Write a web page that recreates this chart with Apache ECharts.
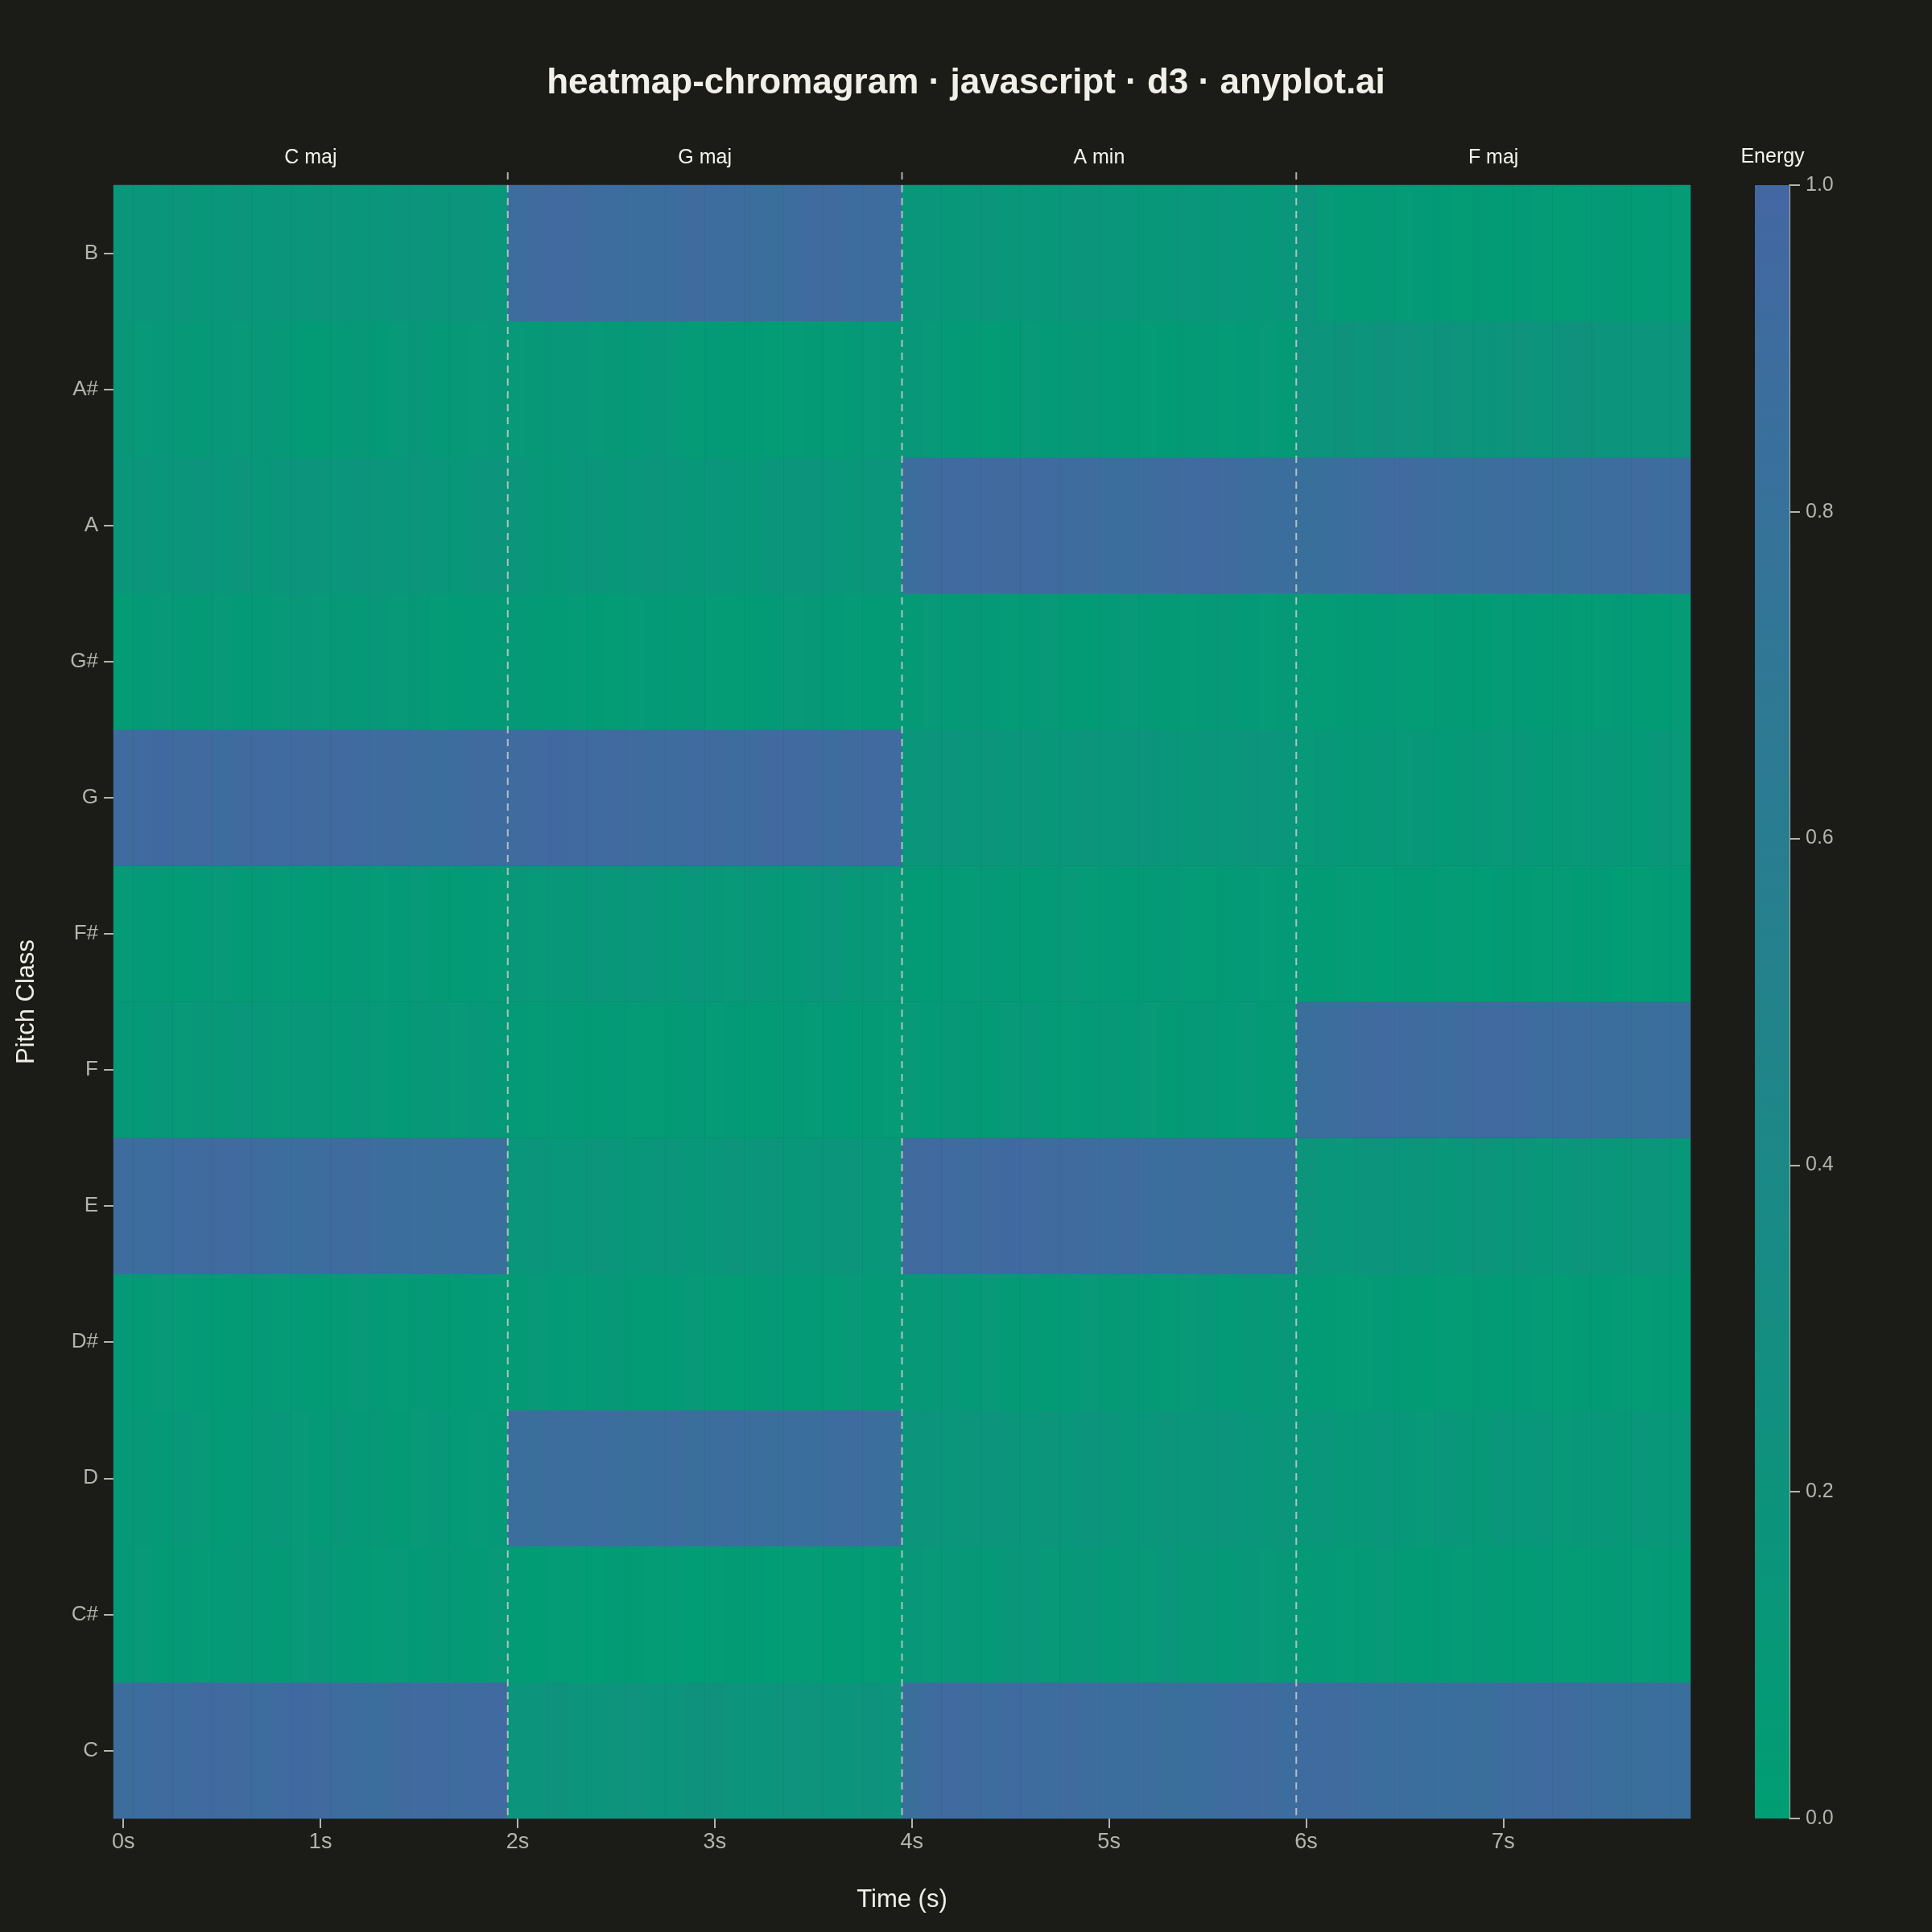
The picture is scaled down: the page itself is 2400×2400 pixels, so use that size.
<!DOCTYPE html>
<html>
<head>
<meta charset="utf-8">
<script src="https://cdn.jsdelivr.net/npm/echarts@6/dist/echarts.min.js"></script>
<style>
  html, body { margin: 0; padding: 0; background: #1b1b18; }
  #chart { width: 2400px; height: 2400px; }
</style>
</head>
<body>
<div id="chart"></div>
<script>
// pitch classes, bottom to top
const pitchClasses = ['C', 'C#', 'D', 'D#', 'E', 'F', 'F#', 'G', 'G#', 'A', 'A#', 'B'];
const chordNames = ['C maj', 'G maj', 'A min', 'F maj'];
const chordStartFrames = [20, 40, 60]; // boundaries between chords (frame index, 10 frames / s)
const colorbarTicks = [0, 0.2, 0.4, 0.6, 0.8, 1.0];

// energy per frame (80 frames), one row per pitch class
const chromaC = [
  0.88, 0.90, 0.93, 0.91, 0.95, 0.94, 0.92, 0.90, 0.93, 0.96, 0.94, 0.91, 0.89, 0.88, 0.92, 0.95, 0.94, 0.91, 0.93, 0.95,
  0.16, 0.18, 0.21, 0.19, 0.17, 0.20, 0.22, 0.19, 0.18, 0.21, 0.23, 0.20, 0.18, 0.19, 0.22, 0.20, 0.17, 0.19, 0.21, 0.18,
  0.86, 0.91, 0.94, 0.92, 0.90, 0.93, 0.91, 0.89, 0.92, 0.90, 0.88, 0.87, 0.90, 0.86, 0.85, 0.88, 0.91, 0.93, 0.92, 0.90,
  0.91, 0.93, 0.92, 0.89, 0.88, 0.90, 0.87, 0.85, 0.88, 0.86, 0.89, 0.91, 0.93, 0.92, 0.90, 0.88, 0.86, 0.85, 0.87, 0.86
];
const chromaCs = [
  0.08, 0.10, 0.07, 0.09, 0.06, 0.08, 0.11, 0.09, 0.07, 0.10, 0.12, 0.09, 0.08, 0.06, 0.10, 0.08, 0.11, 0.09, 0.07, 0.10,
  0.05, 0.03, 0.06, 0.04, 0.02, 0.05, 0.03, 0.04, 0.06, 0.02, 0.04, 0.03, 0.05, 0.02, 0.04, 0.06, 0.03, 0.05, 0.04, 0.03,
  0.12, 0.10, 0.13, 0.11, 0.09, 0.12, 0.14, 0.10, 0.11, 0.13, 0.09, 0.12, 0.10, 0.14, 0.11, 0.12, 0.09, 0.13, 0.10, 0.11,
  0.07, 0.09, 0.06, 0.08, 0.10, 0.07, 0.05, 0.08, 0.06, 0.09, 0.07, 0.05, 0.08, 0.06, 0.04, 0.07, 0.09, 0.06, 0.08, 0.05
];
const chromaD = [
  0.09, 0.11, 0.08, 0.12, 0.10, 0.07, 0.09, 0.11, 0.13, 0.10, 0.08, 0.12, 0.09, 0.11, 0.07, 0.10, 0.12, 0.08, 0.10, 0.09,
  0.88, 0.86, 0.89, 0.87, 0.90, 0.88, 0.85, 0.87, 0.89, 0.86, 0.88, 0.90, 0.87, 0.85, 0.88, 0.86, 0.89, 0.91, 0.88, 0.86,
  0.16, 0.18, 0.15, 0.17, 0.19, 0.16, 0.14, 0.17, 0.15, 0.18, 0.16, 0.13, 0.15, 0.17, 0.14, 0.16, 0.18, 0.15, 0.13, 0.16,
  0.12, 0.14, 0.11, 0.13, 0.15, 0.12, 0.10, 0.14, 0.13, 0.11, 0.15, 0.12, 0.14, 0.10, 0.13, 0.12, 0.11, 0.14, 0.12, 0.13
];
const chromaDs = [
  0.09, 0.07, 0.10, 0.06, 0.08, 0.05, 0.07, 0.09, 0.06, 0.08, 0.05, 0.07, 0.10, 0.08, 0.06, 0.09, 0.07, 0.05, 0.08, 0.06,
  0.07, 0.10, 0.08, 0.06, 0.09, 0.11, 0.07, 0.05, 0.08, 0.10, 0.06, 0.04, 0.07, 0.09, 0.05, 0.08, 0.06, 0.10, 0.07, 0.09,
  0.11, 0.09, 0.12, 0.08, 0.10, 0.07, 0.09, 0.05, 0.08, 0.10, 0.07, 0.11, 0.09, 0.06, 0.10, 0.12, 0.08, 0.11, 0.09, 0.13,
  0.05, 0.07, 0.04, 0.06, 0.08, 0.05, 0.03, 0.06, 0.04, 0.07, 0.05, 0.08, 0.06, 0.04, 0.07, 0.05, 0.06, 0.04, 0.07, 0.05
];
const chromaE = [
  0.90, 0.89, 0.91, 0.93, 0.92, 0.94, 0.93, 0.91, 0.90, 0.88, 0.89, 0.91, 0.92, 0.90, 0.88, 0.87, 0.86, 0.88, 0.87, 0.86,
  0.14, 0.16, 0.13, 0.15, 0.17, 0.14, 0.12, 0.15, 0.16, 0.13, 0.15, 0.17, 0.14, 0.16, 0.13, 0.15, 0.14, 0.16, 0.13, 0.15,
  0.92, 0.94, 0.93, 0.91, 0.95, 0.96, 0.94, 0.92, 0.93, 0.91, 0.90, 0.92, 0.89, 0.88, 0.90, 0.87, 0.86, 0.88, 0.85, 0.87,
  0.17, 0.15, 0.13, 0.16, 0.18, 0.14, 0.16, 0.13, 0.15, 0.17, 0.14, 0.16, 0.12, 0.15, 0.17, 0.14, 0.13, 0.16, 0.14, 0.12
];
const chromaF = [
  0.11, 0.09, 0.12, 0.10, 0.13, 0.11, 0.14, 0.12, 0.10, 0.13, 0.11, 0.09, 0.12, 0.10, 0.08, 0.11, 0.13, 0.10, 0.12, 0.09,
  0.08, 0.06, 0.09, 0.07, 0.05, 0.08, 0.06, 0.04, 0.07, 0.09, 0.06, 0.08, 0.05, 0.07, 0.09, 0.06, 0.08, 0.05, 0.07, 0.06,
  0.10, 0.08, 0.11, 0.09, 0.07, 0.10, 0.12, 0.08, 0.06, 0.09, 0.11, 0.08, 0.10, 0.07, 0.09, 0.11, 0.08, 0.10, 0.07, 0.09,
  0.85, 0.88, 0.90, 0.92, 0.94, 0.93, 0.91, 0.89, 0.92, 0.94, 0.95, 0.93, 0.90, 0.91, 0.89, 0.87, 0.88, 0.86, 0.87, 0.85
];
const chromaFs = [
  0.06, 0.09, 0.07, 0.05, 0.08, 0.10, 0.07, 0.09, 0.06, 0.08, 0.05, 0.07, 0.09, 0.06, 0.08, 0.10, 0.07, 0.05, 0.08, 0.06,
  0.12, 0.10, 0.13, 0.11, 0.14, 0.12, 0.15, 0.13, 0.11, 0.14, 0.12, 0.10, 0.13, 0.11, 0.09, 0.12, 0.14, 0.11, 0.13, 0.10,
  0.07, 0.05, 0.08, 0.06, 0.09, 0.07, 0.05, 0.08, 0.10, 0.06, 0.08, 0.05, 0.07, 0.09, 0.06, 0.04, 0.07, 0.09, 0.06, 0.08,
  0.05, 0.03, 0.06, 0.04, 0.02, 0.05, 0.03, 0.06, 0.04, 0.02, 0.05, 0.03, 0.04, 0.06, 0.03, 0.05, 0.02, 0.04, 0.03, 0.05
];
const chromaG = [
  0.91, 0.93, 0.96, 0.92, 0.94, 0.90, 0.92, 0.95, 0.93, 0.94, 0.92, 0.94, 0.93, 0.91, 0.92, 0.90, 0.88, 0.90, 0.92, 0.91,
  0.92, 0.95, 0.96, 0.94, 0.93, 0.95, 0.92, 0.90, 0.91, 0.93, 0.92, 0.90, 0.91, 0.94, 0.95, 0.93, 0.90, 0.92, 0.94, 0.93,
  0.14, 0.16, 0.18, 0.15, 0.17, 0.14, 0.16, 0.13, 0.15, 0.17, 0.14, 0.16, 0.18, 0.15, 0.13, 0.16, 0.14, 0.17, 0.19, 0.15,
  0.10, 0.12, 0.09, 0.11, 0.13, 0.10, 0.12, 0.08, 0.11, 0.13, 0.10, 0.12, 0.09, 0.11, 0.10, 0.13, 0.11, 0.09, 0.12, 0.10
];
const chromaGs = [
  0.04, 0.08, 0.10, 0.09, 0.07, 0.10, 0.08, 0.09, 0.10, 0.12, 0.10, 0.11, 0.09, 0.12, 0.10, 0.11, 0.06, 0.05, 0.08, 0.07,
  0.09, 0.07, 0.05, 0.06, 0.03, 0.04, 0.06, 0.08, 0.07, 0.09, 0.06, 0.04, 0.05, 0.08, 0.10, 0.11, 0.08, 0.06, 0.05, 0.07,
  0.07, 0.10, 0.08, 0.11, 0.09, 0.06, 0.08, 0.10, 0.07, 0.05, 0.08, 0.10, 0.09, 0.07, 0.06, 0.09, 0.11, 0.08, 0.06, 0.09,
  0.06, 0.04, 0.07, 0.05, 0.08, 0.06, 0.04, 0.07, 0.05, 0.03, 0.06, 0.08, 0.05, 0.07, 0.04, 0.06, 0.08, 0.05, 0.03, 0.06
];
const chromaA = [
  0.15, 0.17, 0.14, 0.16, 0.18, 0.15, 0.17, 0.13, 0.16, 0.19, 0.17, 0.15, 0.18, 0.16, 0.14, 0.17, 0.15, 0.13, 0.16, 0.18,
  0.16, 0.13, 0.11, 0.14, 0.16, 0.13, 0.15, 0.17, 0.14, 0.12, 0.15, 0.13, 0.11, 0.14, 0.16, 0.18, 0.15, 0.13, 0.16, 0.14,
  0.88, 0.91, 0.94, 0.93, 0.95, 0.92, 0.94, 0.93, 0.90, 0.91, 0.88, 0.87, 0.89, 0.91, 0.93, 0.94, 0.92, 0.89, 0.88, 0.87,
  0.84, 0.85, 0.87, 0.89, 0.93, 0.94, 0.91, 0.89, 0.88, 0.87, 0.89, 0.90, 0.88, 0.86, 0.87, 0.89, 0.90, 0.92, 0.90, 0.89
];
const chromaAs = [
  0.12, 0.10, 0.13, 0.11, 0.09, 0.12, 0.10, 0.13, 0.11, 0.08, 0.05, 0.09, 0.11, 0.08, 0.10, 0.12, 0.09, 0.11, 0.10, 0.12,
  0.10, 0.11, 0.13, 0.12, 0.10, 0.11, 0.09, 0.12, 0.10, 0.06, 0.08, 0.05, 0.07, 0.04, 0.06, 0.07, 0.06, 0.09, 0.10, 0.11,
  0.12, 0.10, 0.08, 0.07, 0.04, 0.05, 0.10, 0.08, 0.09, 0.11, 0.08, 0.07, 0.06, 0.05, 0.07, 0.09, 0.06, 0.08, 0.10, 0.07,
  0.20, 0.18, 0.21, 0.19, 0.23, 0.22, 0.19, 0.21, 0.20, 0.18, 0.20, 0.22, 0.19, 0.21, 0.23, 0.20, 0.18, 0.19, 0.17, 0.18
];
const chromaB = [
  0.14, 0.16, 0.15, 0.17, 0.13, 0.15, 0.17, 0.14, 0.16, 0.15, 0.17, 0.16, 0.14, 0.15, 0.18, 0.19, 0.16, 0.18, 0.17, 0.15,
  0.90, 0.92, 0.94, 0.93, 0.90, 0.89, 0.87, 0.88, 0.90, 0.92, 0.90, 0.89, 0.88, 0.86, 0.90, 0.93, 0.92, 0.90, 0.91, 0.89,
  0.13, 0.15, 0.12, 0.14, 0.16, 0.13, 0.15, 0.12, 0.14, 0.16, 0.14, 0.15, 0.12, 0.13, 0.15, 0.12, 0.14, 0.13, 0.11, 0.14,
  0.18, 0.10, 0.05, 0.07, 0.09, 0.06, 0.08, 0.05, 0.04, 0.07, 0.05, 0.08, 0.06, 0.04, 0.06, 0.09, 0.07, 0.05, 0.08, 0.06
];

const pitchRows = [chromaC, chromaCs, chromaD, chromaDs, chromaE, chromaF, chromaFs, chromaG, chromaGs, chromaA, chromaAs, chromaB];

const LOW = '#009E73';
const HIGH = '#4467A3';
const BG = '#1b1b18';
const TICK_TEXT = '#b4b4ae';
const FONT = '"Liberation Sans", Arial, sans-serif';

const frames = chromaC.map((v, i) => i);
const cells = [];
pitchRows.forEach((row, p) => {
	row.forEach((v, f) => cells.push([f, p, v]));
});

const chart = echarts.init(document.getElementById('chart'));
const option = {
	backgroundColor: BG,
	textStyle: { fontFamily: FONT },
	title: {
		text: 'heatmap-chromagram · javascript · d3 · anyplot.ai',
		left: 'center',
		top: 77,
		textStyle: { color: '#f0efe8', fontSize: 44, fontWeight: 'bold', fontFamily: FONT }
	},
	grid: [
		{ left: 141, right: 300, top: 230, bottom: 141 },
		{ left: 2180, width: 43, top: 230, bottom: 141 } // colorbar
	],
	xAxis: [
		{
			type: 'category',
			gridIndex: 0,
			data: frames,
			position: 'bottom',
			name: 'Time (s)',
			nameLocation: 'middle',
			nameGap: 86,
			nameTextStyle: { color: '#f0efe8', fontSize: 31 },
			axisLine: { show: false },
			axisTick: { show: true, interval: 9, alignWithLabel: true, length: 12, lineStyle: { color: TICK_TEXT, width: 2 } },
			axisLabel: {
				interval: 9,
				color: TICK_TEXT,
				fontSize: 27,
				margin: 16,
				formatter: (v, i) => (i / 10) + 's'
			},
			splitLine: { show: false }
		},
		{
			// chord names above the plot
			type: 'category',
			gridIndex: 0,
			data: chordNames,
			position: 'top',
			axisLine: { show: false },
			axisTick: { show: false },
			axisLabel: { color: '#f4f4ee', fontSize: 25, margin: 21 },
			splitLine: { show: false }
		},
		{
			type: 'category',
			gridIndex: 1,
			data: ['energy'],
			show: false
		}
	],
	yAxis: [
		{
			type: 'category',
			gridIndex: 0,
			data: pitchClasses,
			name: 'Pitch Class',
			nameLocation: 'middle',
			nameGap: 92,
			nameTextStyle: { color: '#f0efe8', fontSize: 31 },
			axisLine: { show: false },
			axisTick: { show: true, alignWithLabel: true, length: 12, lineStyle: { color: TICK_TEXT, width: 2 } },
			axisLabel: { color: TICK_TEXT, fontSize: 26, margin: 19 },
			splitLine: { show: false }
		},
		{
			type: 'value',
			gridIndex: 1,
			position: 'right',
			min: 0,
			max: 1,
			interval: 0.2,
			name: 'Energy',
			nameLocation: 'end',
			nameGap: 22,
			nameTextStyle: { color: '#f4f4ee', fontSize: 25, padding: [0, 42, 0, 0] },
			axisLine: { show: true, lineStyle: { color: TICK_TEXT, width: 2 } },
			axisTick: { show: true, length: 13, lineStyle: { color: TICK_TEXT, width: 2 } },
			axisLabel: { color: TICK_TEXT, fontSize: 25, margin: 20, formatter: v => v.toFixed(1) },
			splitLine: { show: false }
		}
	],
	visualMap: {
		type: 'continuous',
		show: false,
		min: colorbarTicks[0],
		max: colorbarTicks[colorbarTicks.length - 1],
		dimension: 2,
		seriesIndex: 0,
		inRange: { color: [LOW, HIGH] }
	},
	series: [
		{
			type: 'heatmap',
			xAxisIndex: 0,
			yAxisIndex: 0,
			data: cells,
			itemStyle: { borderWidth: 0 },
			emphasis: { disabled: true }
		},
		{
			// dashed chord boundaries
			type: 'custom',
			xAxisIndex: 0,
			yAxisIndex: 0,
			z: 5,
			silent: true,
			data: chordStartFrames.map(f => [f, 0]),
			encode: { x: 0, y: 1 },
			renderItem: function (params, api) {
				const cs = params.coordSys;
				const half = api.size([1, 0])[0] / 2;
				const x = api.coord([api.value(0), 0])[0] - half;
				return {
					type: 'line',
					shape: { x1: x, y1: cs.y - 16, x2: x, y2: cs.y + cs.height },
					style: { stroke: '#c9cdc8', lineWidth: 2, lineDash: [9, 7], opacity: 0.85 }
				};
			}
		},
		{
			// colorbar gradient
			type: 'bar',
			xAxisIndex: 2,
			yAxisIndex: 1,
			data: [colorbarTicks[colorbarTicks.length - 1]],
			barWidth: '100%',
			silent: true,
			itemStyle: {
				color: new echarts.graphic.LinearGradient(0, 0, 0, 1, [
					{ offset: 0, color: HIGH },
					{ offset: 1, color: LOW }
				])
			}
		}
	]
};
chart.setOption(option);
</script>
</body>
</html>
